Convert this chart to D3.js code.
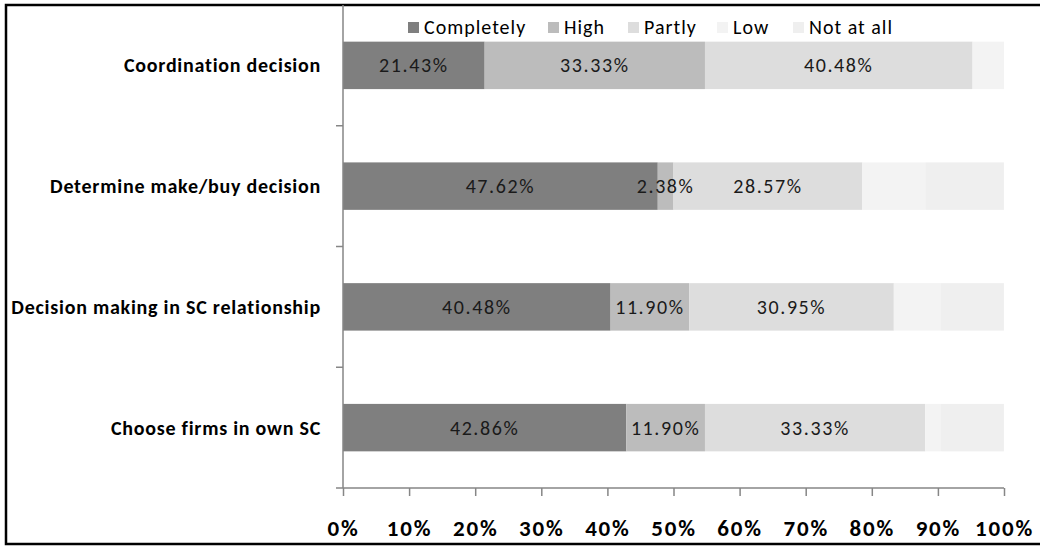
<!DOCTYPE html>
<html>
<head>
<meta charset="utf-8">
<script src="https://cdn.jsdelivr.net/npm/d3@7"></script>
<style>
  html, body { margin: 0; padding: 0; background: #fff; }
  svg { display: block; }
  text { font-family: Carlito, Lato, "Open Sans", sans-serif; }
</style>
</head>
<body>
<svg id="chart" width="1040" height="547"></svg>
<script>
// Survey categories (top to bottom) and response levels
const categories = [
  "Coordination decision",
  "Determine make/buy decision",
  "Decision making in SC relationship",
  "Choose firms in own SC"
];
const levels = ["Completely", "High", "Partly", "Low", "Not at all"];

// Share of firms (%) per response level, one entry per category
const completely = [21.43, 47.62, 40.48, 42.86];
const high       = [33.33,  2.38, 11.90, 11.90];
const partly     = [40.48, 28.57, 30.95, 33.33];
const low        = [ 4.76,  9.52,  7.14,  2.38];
const notAtAll   = [ 0.00, 11.90,  9.52,  9.52];

const xTicks = [0, 10, 20, 30, 40, 50, 60, 70, 80, 90, 100];
const levelColors = ["#7f7f7f", "#bcbcbc", "#dddddd", "#f3f3f3", "#efefef"];
const labelledLevels = ["Completely", "High", "Partly"];

const seriesValues = [completely, high, partly, low, notAtAll];
const rows = categories.map((c, i) => {
  const r = { category: c };
  levels.forEach((l, j) => { r[l] = seriesValues[j][i]; });
  return r;
});

const svg = d3.select("#chart");
const plot = { left: 343, right: 1004, top: 5, bottom: 488 };

const x = d3.scaleLinear().domain([0, 100]).range([plot.left, plot.right]);
const y = d3.scaleBand().domain(categories)
  .range([plot.top, plot.bottom])
  .paddingInner(0.607).paddingOuter(0.3035);
const color = d3.scaleOrdinal().domain(levels).range(levelColors);

const stacked = d3.stack().keys(levels)(rows);

// Outer frame
svg.append("rect")
  .attr("x", 6).attr("y", 5).attr("width", 1040).attr("height", 539)
  .attr("fill", "none").attr("stroke", "#000").attr("stroke-width", 2.5);

// Stacked bars
const layer = svg.append("g").selectAll("g").data(stacked).join("g")
  .attr("fill", d => color(d.key));
layer.selectAll("rect").data(d => d.map(v => ({ v, key: d.key }))).join("rect")
  .attr("x", d => x(d.v[0]))
  .attr("y", d => y(d.v.data.category))
  .attr("width", d => Math.max(0, x(d.v[1]) - x(d.v[0])))
  .attr("height", y.bandwidth());

// Value labels inside the three main segments
const labelLayers = stacked.filter(s => labelledLevels.includes(s.key));
svg.append("g").selectAll("g").data(labelLayers).join("g")
  .selectAll("text").data(d => d.map(v => ({ v, key: d.key }))).join("text")
  .attr("x", d => (x(d.v[0]) + x(d.v[1])) / 2)
  .attr("y", d => y(d.v.data.category) + y.bandwidth() / 2)
  .attr("text-anchor", "middle")
  .attr("dominant-baseline", "central")
  .attr("font-size", 20).attr("letter-spacing", 1.6)
  .attr("fill", "#1a1a1a")
  .text(d => (d.v[1] - d.v[0]).toFixed(2) + "%");

// Vertical (category) axis
const step = y.step();
const boundaries = categories.map(c => y(c) + y.bandwidth() + step * y.paddingInner() / 2);
const axisColor = "#868686";
svg.append("line")
  .attr("x1", plot.left).attr("x2", plot.left)
  .attr("y1", plot.top).attr("y2", plot.bottom)
  .attr("stroke", axisColor).attr("stroke-width", 1.5);
svg.append("g").selectAll("line").data(boundaries).join("line")
  .attr("x1", plot.left - 7).attr("x2", plot.left)
  .attr("y1", d => d).attr("y2", d => d)
  .attr("stroke", axisColor).attr("stroke-width", 1.5);
svg.append("g").selectAll("text").data(categories).join("text")
  .attr("x", plot.left - 22)
  .attr("y", d => y(d) + y.bandwidth() / 2)
  .attr("text-anchor", "end")
  .attr("dominant-baseline", "central")
  .attr("font-size", 20).attr("letter-spacing", 0.75).attr("font-weight", "bold")
  .attr("fill", "#000")
  .text(d => d);

// Horizontal (percentage) axis
const xAxis = d3.axisBottom(x).tickValues(xTicks).tickSize(8).tickPadding(24)
  .tickFormat(d => d + "%");
const gx = svg.append("g").attr("transform", `translate(0,${plot.bottom})`).call(xAxis);
gx.select(".domain").attr("stroke", axisColor).attr("stroke-width", 1.5)
  .attr("d", `M${plot.left},0H${plot.right}`);
gx.selectAll(".tick line").attr("stroke", axisColor).attr("stroke-width", 1.5);
gx.selectAll(".tick text")
  .attr("font-size", 23).attr("letter-spacing", 1.8).attr("font-weight", "bold").attr("fill", "#000")
  .attr("font-family", "Carlito, Lato, sans-serif");

// Legend
const legendX = [408, 548, 628, 717, 793];
const legend = svg.append("g").selectAll("g").data(levels).join("g")
  .attr("transform", (d, i) => `translate(${legendX[i]},27)`);
legend.append("rect")
  .attr("x", 0).attr("y", -5).attr("width", 11).attr("height", 11)
  .attr("fill", d => color(d));
legend.append("text")
  .attr("x", 16).attr("y", 0)
  .attr("dominant-baseline", "central")
  .attr("font-size", 20).attr("letter-spacing", 1)
  .attr("fill", "#000")
  .text(d => d);
</script>
</body>
</html>
